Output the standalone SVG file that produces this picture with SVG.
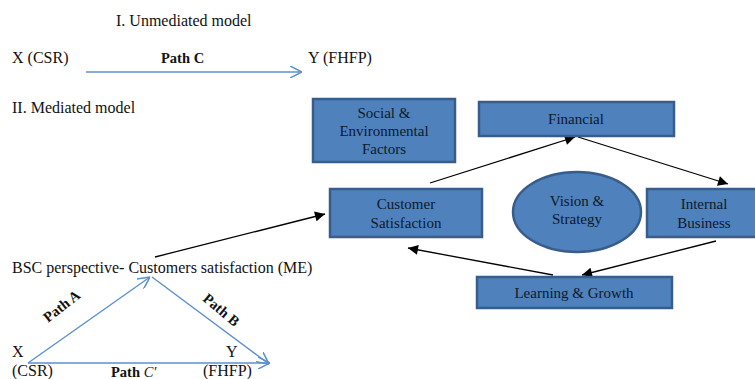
<svg xmlns="http://www.w3.org/2000/svg" width="755" height="379" viewBox="0 0 755 379">
<style>
text{font-family:"Liberation Serif","Times New Roman",serif;font-size:16px;fill:#111}
.b{font-weight:bold;font-size:14.5px}
.box{fill:#4f81bd;stroke:#385d8a;stroke-width:2.5}
.nt{font-size:15px;text-anchor:middle;fill:#0d1a2a}
.blk{stroke:#000;stroke-width:1.3;fill:none;marker-end:url(#ah)}
.blu{stroke:#5b8fd0;stroke-width:1.4;fill:none}
</style>
<defs>
<marker id="ah" viewBox="0 0 10 10" refX="10" refY="5" markerWidth="11" markerHeight="10" markerUnits="userSpaceOnUse" orient="auto"><path d="M0,0 L10,5 L0,10 z" fill="#000"/></marker>
<marker id="oa" viewBox="0 0 10 10" refX="10" refY="5" markerWidth="12" markerHeight="12" markerUnits="userSpaceOnUse" orient="auto"><path d="M0,0 L10,5 L0,10" fill="none" stroke="#5b8fd0" stroke-width="1.3"/></marker>
</defs>
<text x="116" y="26">I. Unmediated model</text>
<text x="12" y="63">X (CSR)</text>
<text x="161" y="63" class="b">Path C</text>
<text x="308" y="63">Y (FHFP)</text>
<text x="12" y="113">II. Mediated model</text>
<text x="12" y="273">BSC perspective- Customers satisfaction (ME)</text>
<text x="12" y="357">X</text>
<text x="12" y="376">(CSR)</text>
<text x="226" y="357">Y</text>
<text x="203" y="376">(FHFP)</text>
<text x="111" y="377" class="b">Path <tspan font-style="italic" font-weight="normal">C′</tspan></text>
<text transform="translate(48,323) rotate(-38)" class="b" font-size="12">Path A</text>
<text transform="translate(202,300) rotate(40)" class="b" font-size="12">Path B</text>
<g id="connectors">
<line class="blu" x1="86" y1="72" x2="302" y2="72" marker-end="url(#oa)"/>
<line class="blu" x1="28" y1="363" x2="150" y2="277" marker-end="url(#oa)"/>
<line class="blu" x1="152" y1="277" x2="269" y2="364" marker-end="url(#oa)"/>
<line class="blu" x1="28" y1="363" x2="270" y2="363" marker-end="url(#oa)"/>
<line class="blk" x1="155" y1="257" x2="325" y2="214"/>
<line class="blk" x1="430" y1="183" x2="575" y2="137"/>
<line class="blk" x1="578" y1="137" x2="728" y2="184"/>
<line class="blk" x1="716" y1="241" x2="582" y2="275"/>
<line class="blk" x1="553" y1="275" x2="408" y2="248"/>
</g>
<g id="social"><rect class="box" x="313" y="99" width="142" height="63"/><text class="nt" x="384" y="118">Social &amp;</text><text class="nt" x="384" y="136">Environmental</text><text class="nt" x="384" y="154">Factors</text></g>
<g id="financial"><rect class="box" x="479" y="102" width="195" height="34"/><text class="nt" x="576" y="124">Financial</text></g>
<g id="customer"><rect class="box" x="330" y="189" width="152" height="48"/><text class="nt" x="406" y="209">Customer</text><text class="nt" x="406" y="228">Satisfaction</text></g>
<g id="vision"><ellipse class="box" cx="577" cy="212" rx="64" ry="40"/><text class="nt" x="577" y="206">Vision &amp;</text><text class="nt" x="577" y="224">Strategy</text></g>
<g id="internal"><rect class="box" x="647" y="189" width="112" height="48"/><text class="nt" x="704" y="209">Internal</text><text class="nt" x="704" y="228">Business</text></g>
<g id="learning"><rect class="box" x="477" y="277" width="195" height="31"/><text class="nt" x="574" y="298">Learning &amp; Growth</text></g>
</svg>
